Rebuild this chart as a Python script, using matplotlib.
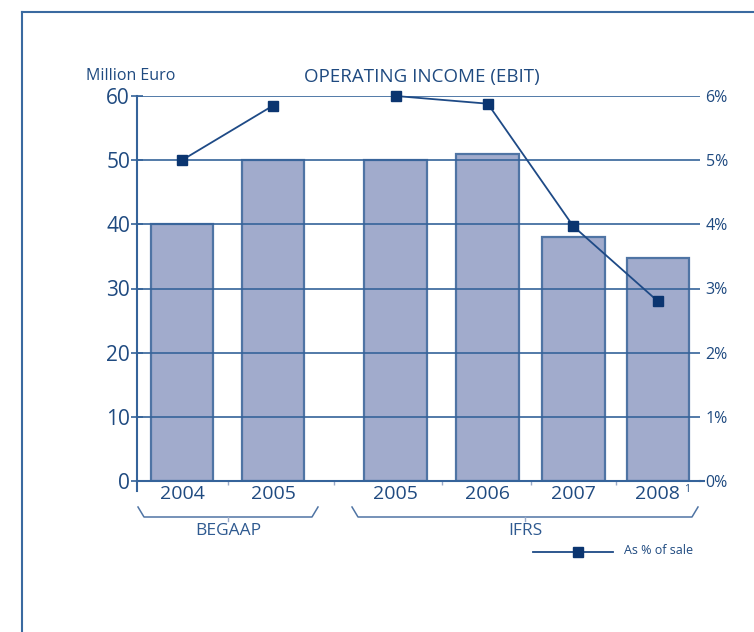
import matplotlib
matplotlib.use("Agg")
import matplotlib.pyplot as plt
from matplotlib.lines import Line2D

plt.rcParams['font.family'] = ['Open Sans', 'DejaVu Sans']

# ---- data ----
years = ["2004", "2005", "2005", "2006", "2007", "2008"]
ebit = [40, 50, 50, 51, 38, 34.7]
pct_of_sales = [5.0, 5.85, 6.0, 5.88, 3.97, 2.8]
groups = ["BEGAAP", "IFRS"]
left_ticks = [0, 10, 20, 30, 40, 50, 60]
right_ticks = [0, 1, 2, 3, 4, 5, 6]

# ---- layout (category positions, not data) ----
pos = [0, 1, 2.35, 3.36, 4.3, 5.23]

TXT = "#1f4a80"
GRID = "#35639a"
BAR = "#a1abcc"
BAREDGE = "#4f74a4"
LINE = "#1e4a86"
MARK = "#0b3570"

W, H = 754, 632
fig = plt.figure(figsize=(W / 100, H / 100), dpi=100)

# frame
fig.add_artist(Line2D([22 / W, 22 / W], [0, 1 - 12 / H], transform=fig.transFigure, color="#3a6aa0", lw=1.5))
fig.add_artist(Line2D([22 / W, 1], [1 - 12 / H, 1 - 12 / H], transform=fig.transFigure, color="#3a6aa0", lw=1.5))

l, r, b, t = 137 / W, 700 / W, 1 - 481 / H, 1 - 96 / H
ax = fig.add_axes([l, b, r - l, t - b])
ax.set_xlim((137 - 182) / 91, (700 - 182) / 91)
ax.set_ylim(0, 60)

ax.bar(pos, ebit, width=0.69, color=BAR, edgecolor=BAREDGE, linewidth=1.6, zorder=2)
for y in left_ticks[1:]:
    ax.axhline(y, color=GRID, lw=1.2, zorder=3)

for s in ["top", "right"]:
    ax.spines[s].set_visible(False)
ax.spines["left"].set_color(GRID)
ax.spines["left"].set_linewidth(1.5)
ax.spines["left"].set_bounds(-1.5, 60)
ax.spines["bottom"].set_color(GRID)
ax.spines["bottom"].set_linewidth(1.5)
ax.spines["bottom"].set_zorder(4)
ax.set_yticks(left_ticks)
ax.set_yticklabels([str(v) for v in left_ticks])
ax.tick_params(axis="y", direction="inout", length=8, width=1.2, color=GRID,
               labelsize=15, labelcolor=TXT, pad=1)
ax.set_xticks(pos)
ax.set_xticklabels(years)
ax.tick_params(axis="x", length=0, labelsize=14, labelcolor=TXT, pad=3)
mids = [(pos[i] + pos[i + 1]) / 2 for i in range(len(pos) - 1)]
ax.set_xticks(mids, minor=True)
ax.tick_params(axis="x", which="minor", direction="out", length=3, width=1, color="#9aaac8")
ax.plot([ax.get_xlim()[1], ax.get_xlim()[1] + 0.04], [0, 0], color=GRID, lw=1.5, clip_on=False)

ax2 = ax.twinx()
ax2.set_ylim(0, 6)
ax2.set_xlim(ax.get_xlim())
for s in ["top", "right", "left", "bottom"]:
    ax2.spines[s].set_visible(False)
ax2.set_yticks(right_ticks)
ax2.set_yticklabels([f"{v}%" for v in right_ticks])
ax2.tick_params(axis="y", length=0, labelsize=11.5, labelcolor=TXT, pad=4)
for seg in (slice(0, 2), slice(2, None)):
    ax2.plot(pos[seg], pct_of_sales[seg], color=LINE, lw=1.3, marker="s", ms=6.5,
             markerfacecolor=MARK, markeredgecolor=MARK, zorder=5, clip_on=False)

# superscript on 2008
fig.text(684 / W, 1 - 484 / H, "1", fontsize=7.5, color=TXT, ha="left", va="top", zorder=10)

# titles
fig.text(86 / W, 1 - 76 / H, "Million Euro", fontsize=11.5, color=TXT, ha="left", va="center")
fig.text(422 / W, 1 - 77 / H, "OPERATING INCOME (EBIT)", fontsize=13.5, color=TXT, ha="center", va="center")

# brackets
brackets_px = [(138, 318), (352, 698)]
for (x0, x1), name in zip(brackets_px, groups):
    y0, y1 = 1 - 507 / H, 1 - 517 / H
    xs = [x0 / W, (x0 + 6) / W, (x1 - 6) / W, x1 / W]
    ys = [y0, y1, y1, y0]
    fig.add_artist(Line2D(xs, ys, transform=fig.transFigure, color="#4f74a4", lw=1.1))
    xm = (x0 + x1) / 2 / W
    fig.add_artist(Line2D([xm, xm], [y1, y1 - 4 / H], transform=fig.transFigure, color="#9aaac8", lw=1))
    fig.text(xm, 1 - 531 / H, name, fontsize=12.5, color="#2f5a90", ha="center", va="center")

# legend
fig.add_artist(Line2D([533 / W, 613 / W], [1 - 552 / H] * 2, transform=fig.transFigure, color=LINE, lw=1.3))
fig.add_artist(Line2D([578 / W], [1 - 552 / H], transform=fig.transFigure, marker="s", ms=6.5,
                      color=MARK, lw=0))
fig.text(624 / W, 1 - 551 / H, "As % of sale", fontsize=9, color=TXT, ha="left", va="center")

fig.savefig("out.png", dpi=100)
